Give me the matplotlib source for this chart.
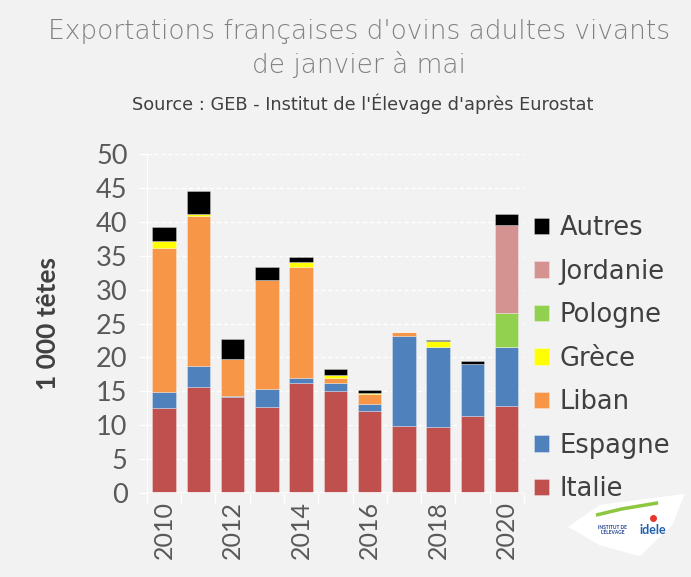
import matplotlib
matplotlib.use("Agg")
import matplotlib.pyplot as plt
import numpy as np
from matplotlib.patches import Polygon

years = ["2010", "2011", "2012", "2013", "2014", "2015", "2016", "2017", "2018", "2019", "2020"]
italie   = [12.5, 15.6, 14.1, 12.7, 16.2, 15.0, 12.1, 9.9, 9.7, 11.3, 12.9]
espagne  = [2.4, 3.2, 0.2, 2.7, 0.8, 1.2, 1.1, 13.3, 11.9, 7.8, 8.6]
liban    = [21.3, 22.0, 5.4, 16.0, 16.4, 0.8, 1.4, 0.5, 0.0, 0.0, 0.0]
grece    = [1.0, 0.4, 0.0, 0.0, 0.7, 0.4, 0.2, 0.0, 0.8, 0.0, 0.0]
pologne  = [0.0, 0.0, 0.0, 0.0, 0.0, 0.0, 0.0, 0.0, 0.0, 0.0, 5.0]
jordanie = [0.0, 0.0, 0.0, 0.0, 0.0, 0.0, 0.0, 0.0, 0.0, 0.0, 13.1]
autres   = [2.1, 3.4, 3.0, 1.9, 0.7, 0.9, 0.4, 0.1, 0.2, 0.3, 1.6]

series = [
    ("Italie", italie, "#c0504d"),
    ("Espagne", espagne, "#4f81bd"),
    ("Liban", liban, "#f79646"),
    ("Grèce", grece, "#ffff00"),
    ("Pologne", pologne, "#92d050"),
    ("Jordanie", jordanie, "#d49391"),
    ("Autres", autres, "#000000"),
]
yticks = [0, 5, 10, 15, 20, 25, 30, 35, 40, 45, 50]
xlabels_shown = ["2010", "", "2012", "", "2014", "", "2016", "", "2018", "", "2020"]

font = "Lato"
wide = "DejaVu Sans"
bg = "#f2f2f2"
fig = plt.figure(figsize=(6.91, 5.77), dpi=100, facecolor=bg)
ax = fig.add_axes([0.2127, 0.1456, 0.5453, 0.5874], facecolor=bg)

x = np.arange(len(years))
bottom = np.zeros(len(years))
handles = []
for name, vals, col in series:
    v = np.array(vals)
    h = ax.bar(x, v, 0.68, bottom=bottom, color=col, edgecolor=(1, 1, 1, 0.35), linewidth=0.6, label=name, zorder=3)
    bottom += v
    handles.append(h)

ax.set_xlim(-0.5, len(years) - 0.5)
ax.set_ylim(0, 50)
ax.set_yticks(yticks)
ax.set_yticklabels([str(t) for t in yticks], fontsize=19.5, color="#595959", family=font)
ax.yaxis.grid(True, linestyle=(0, (3, 2)), color="white", linewidth=1.0, zorder=0)
ax.set_xticks(x)
ax.set_xticklabels(xlabels_shown, rotation=90, fontsize=18, color="#595959", family=font)
ax.tick_params(axis="x", length=0, pad=6)
ax.set_xticks(np.arange(-0.5, len(years), 1), minor=True)
ax.tick_params(axis="x", which="minor", length=8, color="white", width=1)
ax.tick_params(axis="y", length=6, color="white", width=1, pad=8)
for s in ["top", "right", "bottom"]:
    ax.spines[s].set_visible(False)
ax.spines["left"].set_color("white")
ax.axhline(0, color="white", linewidth=1.2, zorder=4)

ax.set_ylabel("1 000 têtes", fontsize=19, fontweight="bold", color="#404040", family=font, labelpad=26)

leg = ax.legend(handles=handles[::-1], labels=[s[0] for s in series][::-1], loc="upper left",
                bbox_to_anchor=(1.0, 0.85), frameon=False, prop={"family": wide, "size": 18.5},
                handlelength=0.6, handleheight=0.6, handletextpad=0.4, labelspacing=0.68, borderaxespad=0)
for t in leg.get_texts():
    t.set_color("#404040")

fig.text(0.52, 0.945, "Exportations françaises d'ovins adultes vivants", ha="center", va="center",
         fontsize=19, color="#808080", family=wide, fontweight="light")
fig.text(0.52, 0.888, "de janvier à mai", ha="center", va="center",
         fontsize=19, color="#808080", family=wide, fontweight="light")
fig.text(0.525, 0.821, "Source : GEB - Institut de l'Élevage d'après Eurostat", ha="center", va="center",
         fontsize=12.8, color="#404040", family=wide)

# logo
logo = Polygon([[0.822, 0.087], [0.868, 0.125], [0.991, 0.144], [0.973, 0.09], [0.926, 0.036], [0.868, 0.055]],
               closed=True, transform=fig.transFigure, facecolor="white", edgecolor="none")
fig.patches.append(logo)
fig.text(0.887, 0.082, "INSTITUT DE\nL'ÉLEVAGE", fontsize=3.5, color="#1f3f8f", family=font,
         fontweight="bold", ha="center", va="center", linespacing=0.9)
fig.text(0.945, 0.082, "idele", fontsize=9, color="#1f5fb0", family=font, fontweight="bold",
         ha="center", va="center")
fig.lines.append(plt.Line2D([0.865, 0.90, 0.95], [0.108, 0.118, 0.128], transform=fig.transFigure,
                            color="#8dc63f", linewidth=2.5))
fig.lines.append(plt.Line2D([0.945], [0.103], transform=fig.transFigure, marker="o",
                            markersize=4, color="#e8352e", linestyle="none"))

fig.savefig("out.png", dpi=100, facecolor=bg)
